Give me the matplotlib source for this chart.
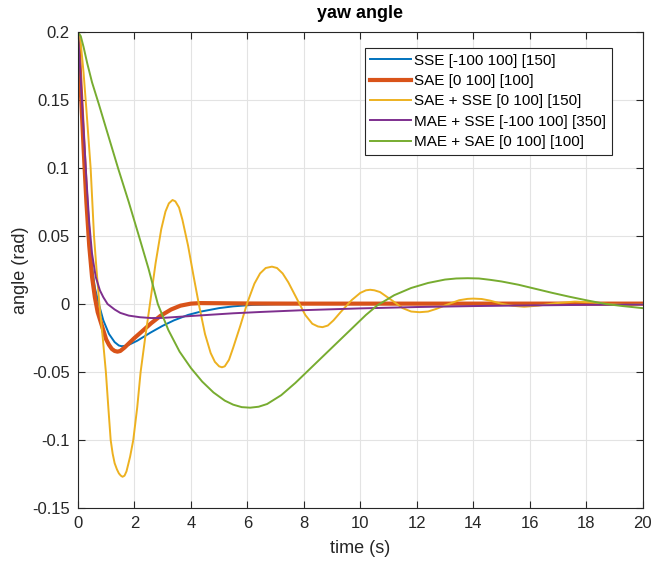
import matplotlib
matplotlib.use("Agg")
import matplotlib.pyplot as plt

plt.rcParams['font.family'] = ['Liberation Sans', 'DejaVu Sans']

# readings of each response curve, (time s, yaw angle rad)
sse_t = [0, 0.05, 0.1, 0.2, 0.3, 0.4, 0.5, 0.6, 0.74, 0.9, 1.1, 1.3, 1.45, 1.55, 1.65, 1.8, 2.1,
         2.57, 3.0, 3.4, 3.9, 4.34, 5.0, 5.5, 6.2, 7.0, 8.0, 20.0]
sse_v = [0.2, 0.182, 0.162, 0.122, 0.083, 0.05, 0.027, 0.012, 0.0, -0.012, -0.022, -0.028,
         -0.0305, -0.031, -0.0308, -0.030, -0.027, -0.021, -0.016, -0.012, -0.008, -0.0056,
         -0.003, -0.0017, -0.0006, -0.0002, 0.0, 0.0]

sae_t = [0, 0.05, 0.1, 0.2, 0.3, 0.4, 0.5, 0.6, 0.7, 0.85, 1.0, 1.1, 1.2, 1.3, 1.4, 1.5, 1.65,
         1.8, 2.0, 2.22, 2.6, 2.93, 3.3, 3.63, 4.0, 4.34, 5.0, 6.0, 8.0, 20.0]
sae_v = [0.2, 0.18, 0.158, 0.115, 0.075, 0.043, 0.02, 0.005, -0.006, -0.016, -0.026, -0.030,
         -0.033, -0.0345, -0.035, -0.0345, -0.032, -0.029, -0.025, -0.021, -0.014, -0.0086,
         -0.004, -0.0012, 0.0003, 0.0007, 0.0006, 0.0004, 0.0003, 0.0003]

sae_sse_t = [0, 0.1, 0.2, 0.3, 0.45, 0.57, 0.66, 0.76, 0.88, 0.99, 1.08, 1.16, 1.23, 1.3, 1.38,
             1.45, 1.52, 1.58, 1.65, 1.72, 1.78, 1.85, 1.96, 2.1, 2.22, 2.38, 2.55, 2.75, 2.95,
             3.1, 3.22, 3.35, 3.45, 3.58, 3.7, 3.9, 4.1, 4.3, 4.5, 4.7, 4.85, 5.0, 5.1, 5.2,
             5.35, 5.5, 5.75, 6.0, 6.25, 6.45, 6.65, 6.87, 7.05, 7.25, 7.45, 7.75, 8.05, 8.3,
             8.5, 8.66, 8.85, 9.05, 9.3, 9.7, 10.0, 10.2, 10.35, 10.5, 10.7, 11.1, 11.5, 11.8,
             12.1, 12.4, 12.7, 13.0, 13.5, 13.8, 14.0, 14.3, 14.6, 15.0, 15.4, 15.8, 16.3, 16.9,
             17.6, 18.2, 18.8, 19.4, 20.0]
sae_sse_v = [0.2, 0.192, 0.17, 0.143, 0.1, 0.05, 0.025, 0.0, -0.025, -0.05, -0.077, -0.1,
             -0.110, -0.117, -0.1215, -0.1245, -0.1262, -0.127, -0.1262, -0.123, -0.118, -0.112,
             -0.1, -0.076, -0.05, -0.025, 0.0, 0.03, 0.055, 0.068, 0.074, 0.0765, 0.0755, 0.071,
             0.062, 0.043, 0.02, -0.002, -0.022, -0.036, -0.0425, -0.0458, -0.0465, -0.0458,
             -0.041, -0.032, -0.016, 0.001, 0.015, 0.0225, 0.0265, 0.0275, 0.0265, 0.0225, 0.016,
             0.004, -0.008, -0.0145, -0.0165, -0.017, -0.0158, -0.012, -0.006, 0.003, 0.0082,
             0.0101, 0.0105, 0.0101, 0.0088, 0.003, -0.003, -0.0055, -0.006, -0.0055, -0.0035,
             -0.001, 0.0028, 0.0038, 0.004, 0.0037, 0.0025, 0.0002, -0.0013, -0.002, -0.0012,
             0.0006, 0.0018, 0.0012, 0.0, -0.0006, -0.0003]

mae_sse_t = [0, 0.05, 0.1, 0.2, 0.3, 0.4, 0.5, 0.63, 0.78, 0.9, 1.05, 1.3, 1.5, 1.8, 2.2, 2.6,
             3.0, 3.5, 4.0, 4.6, 5.5, 6.5, 8.0, 10.0, 12.0, 14.0, 16.0, 18.0, 20.0]
mae_sse_v = [0.2, 0.183, 0.165, 0.128, 0.092, 0.06, 0.037, 0.02, 0.01, 0.005, 0.0, -0.004,
             -0.0065, -0.0085, -0.0097, -0.0103, -0.0102, -0.0095, -0.0088, -0.008, -0.0068,
             -0.0058, -0.0045, -0.0032, -0.0022, -0.0015, -0.001, -0.0006, -0.0004]

mae_sae_t = [0, 0.1, 0.2, 0.33, 0.5, 0.74, 1.0, 1.42, 1.8, 2.16, 2.5, 2.83, 3.2, 3.6, 4.0, 4.4,
             4.8, 5.2, 5.5, 5.8, 6.1, 6.4, 6.7, 7.2, 7.7, 8.2, 8.7, 9.2, 9.7, 10.2, 10.6, 11.2,
             11.8, 12.4, 13.0, 13.4, 13.8, 14.2, 14.6, 15.0, 15.6, 16.2, 16.8, 17.4, 18.0, 18.7,
             19.3, 20.0]
mae_sae_v = [0.2, 0.197, 0.189, 0.177, 0.163, 0.147, 0.129, 0.1, 0.075, 0.05, 0.026, 0.0,
             -0.019, -0.035, -0.047, -0.057, -0.065, -0.071, -0.074, -0.0758, -0.0762, -0.0755,
             -0.0735, -0.067, -0.058, -0.048, -0.038, -0.028, -0.018, -0.008, -0.001, 0.0065,
             0.0118, 0.0155, 0.018, 0.0188, 0.019, 0.0188, 0.0178, 0.0166, 0.0142, 0.0112, 0.0082,
             0.0054, 0.0028, 0.0, -0.0015, -0.003]

labels = ['SSE [-100 100] [150]', 'SAE [0 100] [100]', 'SAE + SSE [0 100] [150]',
          'MAE + SSE [-100 100] [350]', 'MAE + SAE [0 100] [100]']
xticks = list(range(0, 21, 2))
yticks = [-0.15, -0.1, -0.05, 0, 0.05, 0.1, 0.15, 0.2]
yticklabels = ['-0.15', '-0.1', '-0.05', '0', '0.05', '0.1', '0.15', '0.2']

fig = plt.figure(figsize=(6.66, 5.62), dpi=100)
ax = fig.add_axes([0.117, 0.096, 0.848, 0.847])

ax.plot(sse_t, sse_v, color='#0072BD', lw=1.4, label=labels[0])
ax.plot(sae_t, sae_v, color='#D95319', lw=3.0, label=labels[1])
ax.plot(sae_sse_t, sae_sse_v, color='#EDB120', lw=1.4, label=labels[2])
ax.plot(mae_sse_t, mae_sse_v, color='#7E2F8E', lw=1.4, label=labels[3])
ax.plot(mae_sae_t, mae_sae_v, color='#77AC30', lw=1.4, label=labels[4])

ax.set_xlim(0, 20)
ax.set_ylim(-0.15, 0.2)
ax.set_xticks(xticks)
ax.set_yticks(yticks)
ax.set_yticklabels(yticklabels)
ax.tick_params(direction='in', top=True, right=True, labelsize=12, colors='#262626',
               length=5, pad=6)
ax.grid(True, color='#e3e3e3', lw=0.8)
ax.set_axisbelow(True)
for s in ax.spines.values():
    s.set_color('#262626')
    s.set_linewidth(0.8)

ax.set_xlabel('time (s)', fontsize=13, color='#262626', labelpad=6)
ax.set_ylabel('angle (rad)', fontsize=13, color='#262626', labelpad=2)
ax.set_title('yaw angle', fontsize=13, fontweight='bold', pad=10)

leg = ax.legend(loc='upper right', bbox_to_anchor=(0.945, 0.966), fontsize=11,
                fancybox=False, edgecolor='#262626', framealpha=1, borderaxespad=0,
                handlelength=2.7, handletextpad=0.2, labelspacing=0.42, borderpad=0.35)
leg.get_frame().set_linewidth(0.8)

fig.savefig('out.png', dpi=100)
